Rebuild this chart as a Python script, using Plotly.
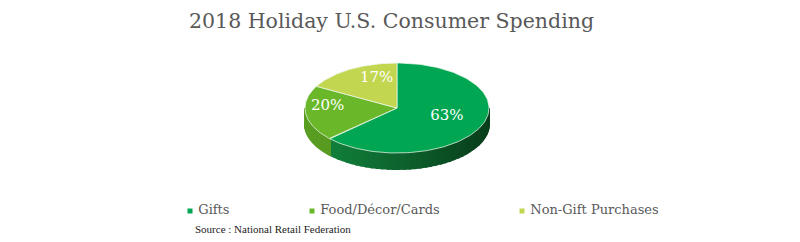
import numpy as np
import plotly.graph_objects as go

# ---- data ----
categories = ["Gifts", "Food/Décor/Cards", "Non-Gift Purchases"]
values = [63, 20, 17]
title_text = "2018 Holiday U.S. Consumer Spending"
source_text = "Source : National Retail Federation"

# ---- style ----
top_colors = ["#00A651", "#6AB82A", "#C2D64F"]
side_dark = ["#083D1B", "#4A8A1C", "#9DB13A"]
side_light = ["#138A40", "#5A9E22", "#AFC445"]
label_dx = [-5, -10, 10]
label_dy = [2, 0, 0]

CX, CY, RX, RY, DEPTH = 397, 108, 92, 45, 16

fig = go.Figure()

total = sum(values)
fracs = np.array(values) / total
starts = np.concatenate([[0], np.cumsum(fracs)[:-1]]) * 2 * np.pi
ends = np.cumsum(fracs) * 2 * np.pi


def ex(t):
    return CX + RX * np.sin(t)


def ey(t):
    return CY - RY * np.cos(t)


def blend(c1, c2, f):
    a = [int(c1[i:i + 2], 16) for i in (1, 3, 5)]
    b = [int(c2[i:i + 2], 16) for i in (1, 3, 5)]
    m = [round(a[k] + (b[k] - a[k]) * f) for k in range(3)]
    return "rgb(%d,%d,%d)" % tuple(m)


# side walls (visible front half: angles between pi/2 and 3pi/2)
for i in range(len(values)):
    a0 = max(starts[i], np.pi / 2)
    a1 = min(ends[i], 3 * np.pi / 2)
    if a1 <= a0:
        continue
    nstrip = 40
    edges = np.linspace(a0, a1, nstrip + 1)
    for k in range(nstrip):
        t = np.linspace(edges[k], edges[k + 1], 4)
        xs = np.concatenate([ex(t), ex(t[::-1])])
        ys = np.concatenate([ey(t), ey(t[::-1]) + DEPTH])
        xm = np.sin((edges[k] + edges[k + 1]) / 2)
        f = (1 - xm) / 2  # 0 at right, 1 at left
        col = blend(side_dark[i], side_light[i], f)
        fig.add_trace(go.Scatter(
            x=np.append(xs, xs[0]), y=np.append(ys, ys[0]),
            mode="lines", fill="toself", fillcolor=col,
            line=dict(width=2, color=col), hoverinfo="skip",
            showlegend=False))

# top faces
for i in range(len(values)):
    t = np.linspace(starts[i], ends[i], 120)
    xs = np.concatenate([[CX], ex(t), [CX]])
    ys = np.concatenate([[CY], ey(t), [CY]])
    fig.add_trace(go.Scatter(
        x=xs, y=ys, mode="lines", fill="toself", fillcolor=top_colors[i],
        line=dict(width=1, color="rgba(235,245,235,0.75)"),
        hoverinfo="skip", showlegend=False))

# percentage labels
mids = (starts + ends) / 2
lx = CX + RX * 0.65 * np.sin(mids) + np.array(label_dx)
ly = CY - RY * 0.65 * np.cos(mids) - 5 + np.array(label_dy)
fig.add_trace(go.Scatter(
    x=lx, y=ly, mode="text",
    text=[f"{v}%" for v in values],
    textfont=dict(family="DejaVu Serif", size=15, color="white"),
    hoverinfo="skip", showlegend=False))

# legend
leg_x = [190, 312, 522]
leg_y = 211
fig.add_trace(go.Scatter(
    x=leg_x, y=[leg_y] * len(categories), mode="markers+text",
    marker=dict(symbol="square", size=5, color=top_colors),
    text=[" " + c for c in categories], textposition="middle right",
    textfont=dict(family="DejaVu Serif", size=13, color="#595959"),
    hoverinfo="skip", showlegend=False))

fig.add_annotation(x=193, y=229, xref="x", yref="y", text=source_text,
                   showarrow=False, xanchor="left", yanchor="middle",
                   font=dict(family="Liberation Sans Narrow", size=11, color="#222222"))

fig.add_annotation(x=391, y=21, xref="x", yref="y", text=title_text,
                   showarrow=False, xanchor="center", yanchor="middle",
                   font=dict(family="DejaVu Serif", size=20.5, color="#595959"))

fig.update_layout(
    width=800, height=242, margin=dict(l=0, r=0, t=0, b=0),
    paper_bgcolor="white", plot_bgcolor="white",
    xaxis=dict(range=[0, 800], visible=False, fixedrange=True),
    yaxis=dict(range=[242, 0], visible=False, fixedrange=True),
    showlegend=False,
)

fig.write_html("out.html")
